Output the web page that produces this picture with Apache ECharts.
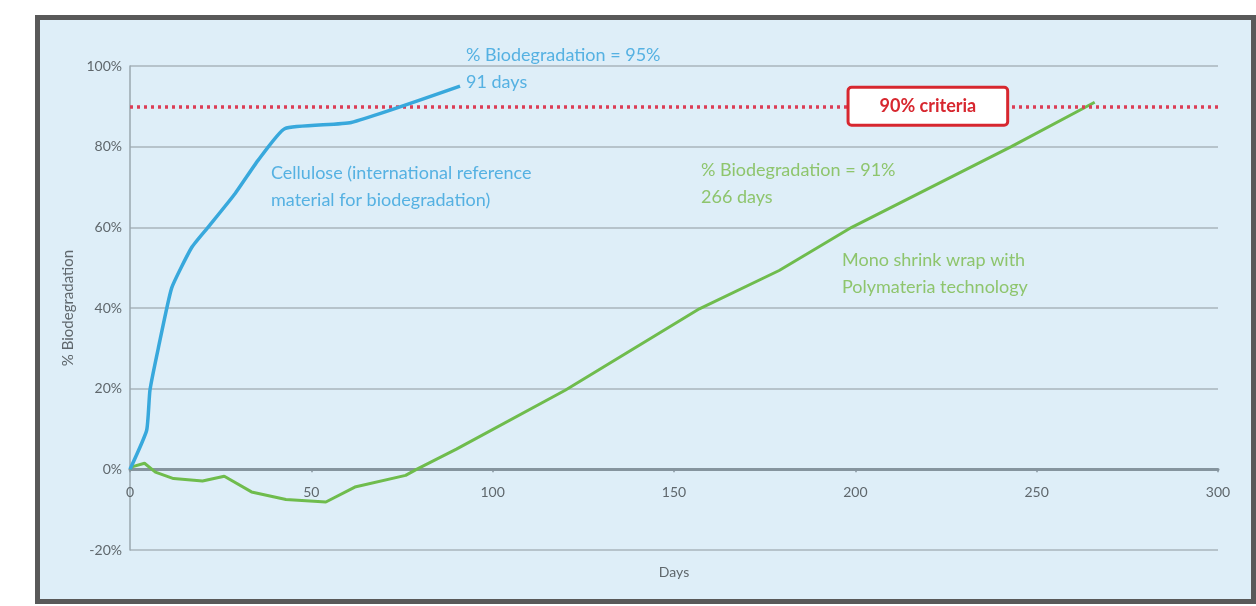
<!DOCTYPE html>
<html>
<head>
<meta charset="utf-8">
<style>
  html, body { margin: 0; padding: 0; background: #ffffff; }
  #chart { width: 1256px; height: 606px; }
</style>
<script src="https://cdn.jsdelivr.net/npm/echarts@6/dist/echarts.min.js"></script>
</head>
<body>
<div id="chart"></div>
<script>
// Days vs % biodegradation, two materials
const celluloseDays  = [0, 4.6, 5.5, 7.8, 11.5, 17, 21.5, 29, 35.3, 42.7, 61, 91];
const celluloseValue = [0, 9.7, 19.6, 30, 45, 55, 60, 68.4, 76.6, 84.5, 86, 95];

const shrinkDays  = [0, 0.5, 4, 7, 12, 20, 26, 33.5, 43, 54, 62, 76, 79, 90, 120, 157, 179, 199, 243, 266];
const shrinkValue = [0, 0.6, 1.5, -0.7, -2.3, -2.9, -1.7, -5.6, -7.5, -8.1, -4.4, -1.5, 0, 5, 19.6, 39.8, 49.3, 60, 80, 91];

const criteriaLevel = 90;
const criteriaLabel = '90% criteria';
const criteriaLabelDay = 220;

const yTicks = [-20, 0, 20, 40, 60, 80, 100];
const xTicks = [0, 50, 100, 150, 200, 250, 300];

const celluloseNotes = {
  result: ['% Biodegradation = 95%', '91 days'],
  name: ['Cellulose (international reference', 'material for biodegradation)']
};
const shrinkNotes = {
  result: ['% Biodegradation = 91%', '266 days'],
  name: ['Mono shrink wrap with', 'Polymateria technology']
};

const pairs = (xs, ys) => xs.map((x, i) => [x, ys[i]]);

const FONT = 'Lato, "Open Sans", sans-serif';
const BLUE = '#38a8dc';
const GREEN = '#6fbc4d';
const BLUE_TEXT = '#55b1e2';
const GREEN_TEXT = '#8ec56d';
const RED = '#d7272f';
const AXIS_TEXT = '#5f676c';

const GRID_TOP = 66, GRID_BOTTOM_PX = 550;
const yMin = yTicks[0], yMax = yTicks[yTicks.length - 1];
// lift the x axis (line, ticks, labels, name) up to the 0% level
const zeroOffset = -(GRID_BOTTOM_PX - GRID_TOP) * (0 - yMin) / (yMax - yMin);

const chart = echarts.init(document.getElementById('chart'), null, { renderer: 'canvas' });

function noteText(lines, x, y, color) {
  return {
    type: 'text',
    left: x,
    top: y,
    z: 10,
    style: {
      text: lines.join('\n'),
      fill: color,
      font: '18px ' + FONT,
      lineHeight: 27
    }
  };
}

chart.setOption({
  animation: false,
  backgroundColor: '#ffffff',
  graphic: [
    {
      type: 'rect',
      z: -10,
      shape: { x: 37.5, y: 17.5, width: 1216, height: 584 },
      style: { fill: '#deeef8', stroke: '#595959', lineWidth: 5 }
    },
    noteText(celluloseNotes.result, 466, 42, BLUE_TEXT),
    noteText(celluloseNotes.name, 271, 160, BLUE_TEXT),
    noteText(shrinkNotes.result, 701, 157, GREEN_TEXT),
    noteText(shrinkNotes.name, 842, 247, GREEN_TEXT)
  ],
  grid: {
    left: 130, right: 38, top: GRID_TOP, bottom: 606 - GRID_BOTTOM_PX,
    containLabel: false,
    outerBoundsMode: 'none'
  },
  xAxis: {
    type: 'value',
    position: 'bottom',
    offset: zeroOffset,
    min: xTicks[0],
    max: xTicks[xTicks.length - 1],
    interval: 50,
    name: 'Days',
    nameLocation: 'middle',
    nameGap: 96,
    nameTextStyle: { color: AXIS_TEXT, fontFamily: FONT, fontSize: 14 },
    axisLine: { show: true, onZero: false, lineStyle: { color: '#85949e', width: 3 } },
    axisTick: { show: true, length: 3, lineStyle: { color: '#85949e', width: 1.5 } },
    axisLabel: { color: AXIS_TEXT, fontFamily: FONT, fontSize: 14, margin: 16 },
    splitLine: { show: false }
  },
  yAxis: {
    type: 'value',
    min: yMin,
    max: yMax,
    interval: 20,
    name: '% Biodegradation',
    nameLocation: 'middle',
    nameGap: 52,
    nameRotate: 90,
    nameTextStyle: { color: AXIS_TEXT, fontFamily: FONT, fontSize: 15 },
    axisLine: { show: true, lineStyle: { color: '#9aa7af', width: 1.5 } },
    axisTick: { show: false },
    axisLabel: { color: AXIS_TEXT, fontFamily: FONT, fontSize: 14, margin: 8, formatter: '{value}%' },
    splitLine: { show: true, lineStyle: { color: '#b6c3cb', width: 2 } }
  },
  series: [
    {
      name: 'Cellulose',
      type: 'line',
      data: pairs(celluloseDays, celluloseValue),
      showSymbol: false,
      smooth: 0.15,
      z: 5,
      lineStyle: { color: BLUE, width: 3.5 },
      markLine: {
        silent: true,
        symbol: 'none',
        label: { show: false },
        lineStyle: { color: '#dc3d55', type: [3, 4], width: 3.5 },
        data: [{ yAxis: criteriaLevel }]
      }
    },
    {
      name: 'Mono shrink wrap',
      type: 'line',
      data: pairs(shrinkDays, shrinkValue),
      showSymbol: false,
      z: 4,
      lineStyle: { color: GREEN, width: 3 },
      markPoint: {
        silent: true,
        symbol: 'circle',
        symbolSize: 0,
        label: {
          show: true,
          position: 'inside',
          formatter: criteriaLabel,
          color: RED,
          fontFamily: FONT,
          fontSize: 18,
          fontWeight: 'bold',
          backgroundColor: '#ffffff',
          borderColor: RED,
          borderWidth: 3,
          borderRadius: 2,
          padding: [9, 30, 8, 30]
        },
        data: [{ coord: [criteriaLabelDay, criteriaLevel] }]
      }
    }
  ]
});
</script>
</body>
</html>
